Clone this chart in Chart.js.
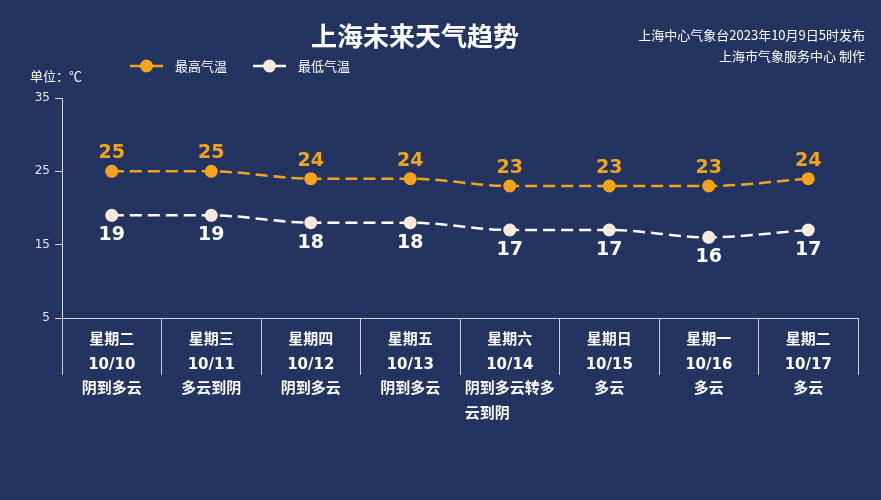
<!DOCTYPE html>
<html><head><meta charset="utf-8">
<script src="https://cdn.jsdelivr.net/npm/chart.js@4"></script>
<style>html,body{margin:0;padding:0;background:#233461;}#wrap{width:881px;height:500px;}</style>
</head><body><div id="wrap"><canvas id="c" width="881" height="500"></canvas></div>
<script>
const weekdays = ["星期二","星期三","星期四","星期五","星期六","星期日","星期一","星期二"];
const dates = ["10/10","10/11","10/12","10/13","10/14","10/15","10/16","10/17"];
const weather = [["阴到多云"],["多云到阴"],["阴到多云"],["阴到多云"],["阴到多云转多","云到阴　　　"],["多云"],["多云"],["多云"]];
const highTemps = [25,25,24,24,23,23,23,24];
const lowTemps = [19,19,18,18,17,17,16,17];
const yTicks = [5,15,25,35];

const BG = '#233461';
const ORANGE = '#f6a31c';
const CJK = '"Noto Sans CJK SC", sans-serif';
const MIX = '"DejaVu Sans", "Noto Sans CJK SC", sans-serif';

const labels = weekdays.map((w,i)=>[w, dates[i], ...weather[i]]);

const decor = {
  id:'decor',
  beforeDraw(chart){
    const c = chart.ctx;
    c.save(); c.fillStyle = BG; c.fillRect(0,0,chart.width,chart.height); c.restore();
  },
  afterDatasetsDraw(chart){
    const c = chart.ctx;
    c.save();
    c.textAlign='center'; c.textBaseline='middle';
    c.font = 'bold 19px "DejaVu Sans", sans-serif';
    chart.data.datasets.forEach((ds,di)=>{
      const meta = chart.getDatasetMeta(di);
      c.fillStyle = di===0 ? ORANGE : '#ffffff';
      meta.data.forEach((pt,i)=>{
        const off = di===0 ? -18 : 20;
        c.fillText(String(ds.data[i]), pt.x, pt.y+off);
      });
    });
    c.restore();
  },
  afterDraw(chart){
    const c = chart.ctx;
    c.save();
    c.fillStyle='#ffffff'; c.textBaseline='middle';
    c.textAlign='center';
    c.font = 'bold 26px ' + CJK;
    c.fillText('上海未来天气趋势', 415, 36);
    c.textAlign='right';
    c.font = '13px ' + CJK;
    c.fillText('上海中心气象台2023年10月9日5时发布', 865, 35);
    c.fillText('上海市气象服务中心 制作', 865, 56);
    c.textAlign='left';
    c.fillText('单位：℃', 30, 76);
    const items = [[130, 0],[253, 1]];
    items.forEach(([x,di])=>{
      const ds = chart.data.datasets[di];
      c.strokeStyle = ds.borderColor; c.lineWidth = 2.5;
      c.beginPath(); c.moveTo(x,66); c.lineTo(x+33,66); c.stroke();
      c.fillStyle = ds.pointBackgroundColor;
      c.beginPath(); c.arc(x+16.5,66,6.5,0,Math.PI*2); c.fill();
      c.fillStyle='#ffffff'; c.font='13px '+CJK; c.textAlign='left';
      c.fillText(ds.label, x+45, 66);
    });
    c.restore();
  }
};

new Chart(document.getElementById('c'), {
  type:'line',
  data:{
    labels: labels,
    datasets:[
      {label:'最高气温', data:highTemps, borderColor:ORANGE, backgroundColor:ORANGE,
       pointBackgroundColor:ORANGE, pointBorderColor:ORANGE, pointRadius:6.5, pointBorderWidth:0,
       borderWidth:2.5, borderDash:[12,6], cubicInterpolationMode:'monotone'},
      {label:'最低气温', data:lowTemps, borderColor:'#ffffff', backgroundColor:'#f8ebdd',
       pointBackgroundColor:'#f8ebdd', pointBorderColor:'#ffffff', pointRadius:6.5, pointBorderWidth:0,
       borderWidth:2.5, borderDash:[12,6], cubicInterpolationMode:'monotone'}
    ]
  },
  options:{
    responsive:false, animation:false,
    layout:{padding:{top:98,left:0,right:23,bottom:0}},
    plugins:{legend:{display:false}, title:{display:false}, tooltip:{enabled:false}},
    scales:{
      x:{
        offset:true,
        afterFit(s){ s.height = 182; },
        border:{display:true, color:'#d4d8e2', width:1},
        grid:{offset:true, drawOnChartArea:false, drawTicks:true, tickLength:57, color:'#c9cdd8', lineWidth:1},
        ticks:{color:'#ffffff', padding:-47.5, maxRotation:0, autoSkip:false,
          font:{family:MIX, size:15, weight:'bold', lineHeight:1.65}}
      },
      y:{
        min:5, max:35,
        afterFit(s){ s.width = 62; },
        afterBuildTicks(s){ s.ticks = yTicks.map(v=>({value:v})); },
        border:{display:true, color:'#d4d8e2', width:1},
        grid:{drawOnChartArea:false, drawTicks:true, tickLength:7, color:'#d4d8e2'},
        ticks:{color:'#e4e6ee', padding:5, font:{family:'"DejaVu Sans", sans-serif', size:12}}
      }
    }
  },
  plugins:[decor]
});
</script></body></html>
